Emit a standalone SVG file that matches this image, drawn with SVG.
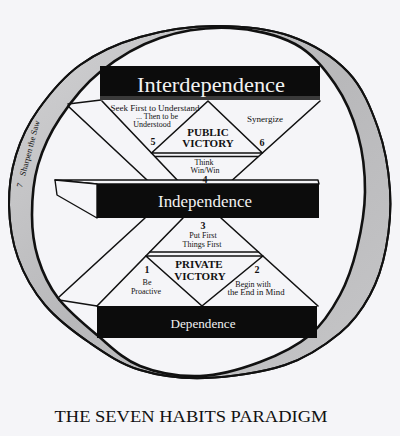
<svg xmlns="http://www.w3.org/2000/svg" width="400" height="436" viewBox="0 0 400 436">
<defs>
<linearGradient id="band" x1="0" y1="0" x2="1" y2="1">
<stop offset="0" stop-color="#d2d2d4"/>
<stop offset="0.5" stop-color="#b8b8ba"/>
<stop offset="1" stop-color="#c6c6c8"/>
</linearGradient>
<path id="outer" d="M215,26 C240,25.83 267.83,28.33 290,36 C312.17,43.67 333.33,56.67 348,72 C362.67,87.33 371,108.33 378,128 C385,147.67 388.67,170 390,190 C391.33,210 389.33,230.5 386,248 C382.67,265.5 377.67,280.83 370,295 C362.33,309.17 354.17,321.33 340,333 C325.83,344.67 307.5,357.5 285,365 C262.5,372.5 229.17,377.17 205,378 C180.83,378.83 159.17,375.83 140,370 C120.83,364.17 105.83,353.83 90,343 C74.17,332.17 57,319.17 45,305 C33,290.83 24,274.67 18,258 C12,241.33 9.33,222.17 9,205 C8.67,187.83 11.17,170.83 16,155 C20.83,139.17 27.33,125 38,110 C48.67,95 63,77.17 80,65 C97,52.83 117.5,43.5 140,37 C162.5,30.5 190,26.17 215,26 Z"/>
<path id="inner" d="M230,28 C252.5,29 277.5,34.67 295,44 C312.5,53.33 324.5,68.83 335,84 C345.5,99.17 353,117 358,135 C363,153 365.17,173.17 365,192 C364.83,210.83 361.17,230.83 357,248 C352.83,265.17 347.83,280.5 340,295 C332.17,309.5 323.33,323.83 310,335 C296.67,346.17 278.33,355.17 260,362 C241.67,368.83 220,375.33 200,376 C180,376.67 157.17,372.83 140,366 C122.83,359.17 110.67,346.33 97,335 C83.33,323.67 67.83,310.83 58,298 C48.17,285.17 42.33,271.83 38,258 C33.67,244.17 32,230.5 32,215 C32,199.5 33.33,181.17 38,165 C42.67,148.83 49.67,133.5 60,118 C70.33,102.5 83.33,85.33 100,72 C116.67,58.67 138.33,45.33 160,38 C181.67,30.67 207.5,27 230,28 Z"/>
<style>
.ln{stroke:#111;stroke-width:1.6;fill:none;stroke-linecap:round}
.bar{fill:#0c0c0c}
.face{fill:#f5f5f8;stroke:#111;stroke-width:1.4;stroke-linejoin:round}
.s{font-family:"Liberation Serif","Times New Roman",serif;font-size:8px;fill:#111;text-anchor:middle}
.n{font-family:"Liberation Serif","Times New Roman",serif;font-size:10px;font-weight:bold;fill:#111;text-anchor:middle}
.v{font-family:"Liberation Serif","Times New Roman",serif;font-size:11px;font-weight:bold;fill:#111;text-anchor:middle}
.w{font-family:"Liberation Serif","Times New Roman",serif;fill:#f2f2f2;text-anchor:middle}
</style>
</defs>
<rect x="0" y="0" width="400" height="436" fill="#f5f5f8"/>
<g id="ring">
<use href="#outer" fill="url(#band)" stroke="#111" stroke-width="2"/>
<use href="#inner" fill="#f5f5f8" stroke="#111" stroke-width="2.6"/>
<use href="#outer" fill="none" stroke="#111" stroke-width="2"/>
<text transform="translate(22,188) rotate(-75)" font-family="'Liberation Serif','Times New Roman',serif" font-size="8.5" fill="#111">7<tspan x="12">Sharpen the Saw</tspan></text>
</g>
<g id="connectors">
<line class="ln" x1="68" y1="104" x2="101" y2="100"/>
<line class="ln" x1="68" y1="106" x2="147" y2="180"/>
<line class="ln" x1="102" y1="101" x2="180" y2="183"/>
<line class="ln" x1="320" y1="101" x2="228" y2="184"/>
<line class="ln" x1="155.3" y1="156.5" x2="257.9" y2="156.5"/>
<line class="ln" x1="145" y1="218" x2="59" y2="297"/>
<line class="ln" x1="59" y1="300" x2="97" y2="306"/>
<line class="ln" x1="183" y1="218" x2="97" y2="306"/>
<line class="ln" x1="221" y1="218" x2="318" y2="306"/>
<line class="ln" x1="149.8" y1="252" x2="258.5" y2="252"/>
</g>
<g id="public-victory">
<polygon points="208,101 151.5,153 262.4,153" fill="none" stroke="#111" stroke-width="1.6" stroke-linejoin="round"/>
<text class="v" x="208" y="136">PUBLIC</text>
<text class="v" x="208" y="147">VICTORY</text>
</g>
<g id="private-victory">
<polygon points="145.9,256 262.9,256 202,306" fill="none" stroke="#111" stroke-width="1.6" stroke-linejoin="round"/>
<text class="v" x="199" y="268">PRIVATE</text>
<text class="v" x="200" y="280">VICTORY</text>
</g>
<g id="interdependence">
<rect class="bar" x="100" y="66" width="220" height="30"/>
<rect x="100" y="96" width="220" height="4" fill="#3a3a3a"/>
<text class="w" x="211" y="92" font-size="22" textLength="148" lengthAdjust="spacingAndGlyphs">Interdependence</text>
</g>
<g id="independence">
<polygon class="face" points="55,180 318,180 319,184 97,184"/>
<polygon class="face" points="55,180 97,184 97,218 57,195"/>
<rect class="bar" x="97" y="184" width="222" height="34"/>
<text class="w" x="205" y="207" font-size="16" textLength="94" lengthAdjust="spacingAndGlyphs">Independence</text>
</g>
<g id="dependence">
<rect class="bar" x="97" y="306" width="220" height="32"/>
<text class="w" x="203" y="328" font-size="13" textLength="65" lengthAdjust="spacingAndGlyphs">Dependence</text>
</g>
<g id="habit5">
<text class="s" x="155" y="111" textLength="89" lengthAdjust="spacingAndGlyphs">Seek First to Understand</text>
<text class="s" x="157" y="119">... Then to be</text>
<text class="s" x="152" y="127">Understood</text>
<text class="n" x="153" y="145">5</text>
</g>
<g id="habit6">
<text class="s" x="265" y="122" textLength="36" lengthAdjust="spacingAndGlyphs">Synergize</text>
<text class="n" x="262" y="146">6</text>
</g>
<g id="habit4">
<text class="s" x="204" y="165">Think</text>
<text class="s" x="205" y="173">Win/Win</text>
<text class="n" x="205" y="183">4</text>
</g>
<g id="habit3">
<text class="n" x="203" y="229">3</text>
<text class="s" x="203" y="238">Put First</text>
<text class="s" x="202" y="247">Things First</text>
</g>
<g id="habit1">
<text class="n" x="147" y="273">1</text>
<text class="s" x="147" y="285">Be</text>
<text class="s" x="146" y="294">Proactive</text>
</g>
<g id="habit2">
<text class="n" x="257" y="273">2</text>
<text class="s" x="253" y="287">Begin with</text>
<text class="s" x="256" y="295" textLength="57" lengthAdjust="spacingAndGlyphs">the End in Mind</text>
</g>
<text x="191" y="422" font-family="'Liberation Serif','Times New Roman',serif" font-size="17" fill="#111" text-anchor="middle" textLength="273" lengthAdjust="spacingAndGlyphs">THE SEVEN HABITS PARADIGM</text>
</svg>
